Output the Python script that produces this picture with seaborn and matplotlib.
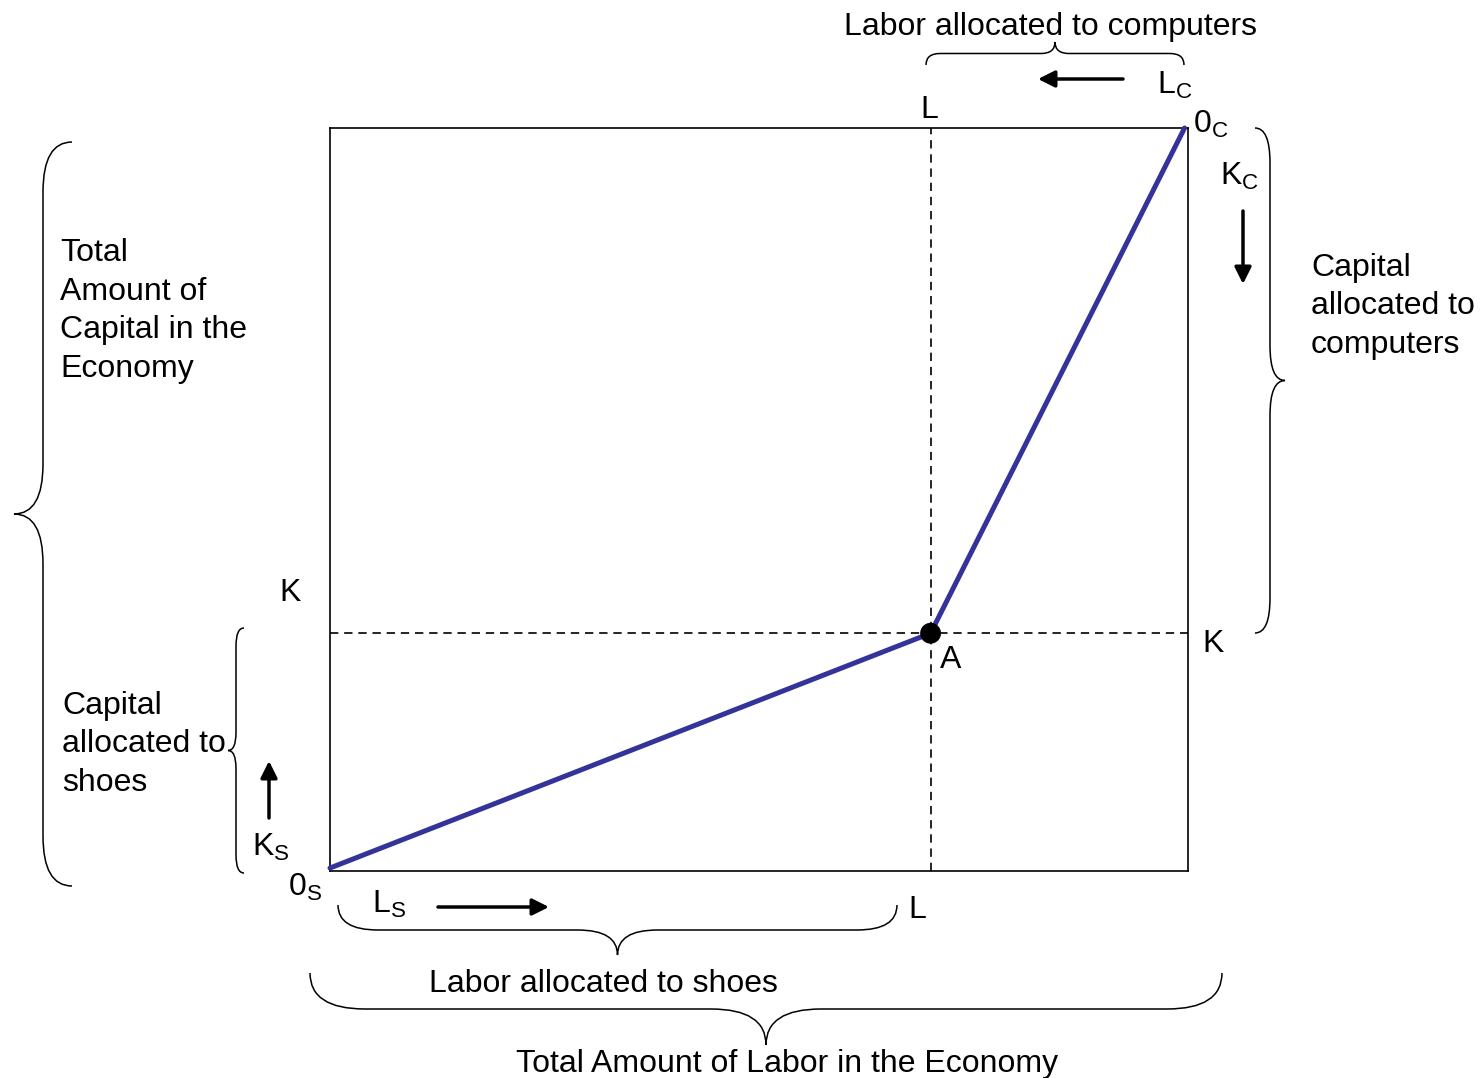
import numpy as np
import matplotlib
matplotlib.use("Agg")
import matplotlib.pyplot as plt
from matplotlib.path import Path
from matplotlib.patches import PathPatch
import seaborn as sns

# Edgeworth box data (labor / capital in shoes, measured from 0s)
total_labor = 100
total_capital = 100
path_labor = [0, 70, 99.6]      # 0s -> A -> 0c
path_capital = [0.4, 32, 100]
point_labor = [70]             # allocation A
point_capital = [32]

LINE_COLOR = "#333399"
FS = 23

sns.set_style("white")
plt.rcParams['font.family'] = ['Liberation Sans', 'DejaVu Sans']
plt.rcParams['mathtext.fontset'] = 'custom'
plt.rcParams['mathtext.rm'] = 'Liberation Sans'
plt.rcParams['text.color'] = 'black'

W, H = 1480, 1078
fig = plt.figure(figsize=(W / 100, H / 100), dpi=100)
fig.patch.set_facecolor("white")

# main box sits in pixel region x 330..1188, y 128..871
box = [330, 128, 1188, 871]
ax = fig.add_axes([box[0] / W, 1 - box[3] / H, (box[2] - box[0]) / W, (box[3] - box[1]) / H])
ax.set_xlim(0, total_labor)
ax.set_ylim(0, total_capital)
ax.set_xticks([])
ax.set_yticks([])
for s in ax.spines.values():
    s.set_color("black")
    s.set_linewidth(1.2)

dash = (0, (5, 3.5))
ax.axvline(point_labor[0], color="black", lw=1.2, ls=dash, zorder=1)
ax.axhline(point_capital[0], color="black", lw=1.2, ls=dash, zorder=1)

sns.lineplot(x=path_labor, y=path_capital, ax=ax, color=LINE_COLOR, lw=3.6,
             sort=False, clip_on=False, zorder=3)
sns.scatterplot(x=point_labor, y=point_capital, ax=ax, color="black", s=15 ** 2,
                edgecolor="none", clip_on=False, zorder=4)

# overlay in pixel coordinates for labels, braces and arrows
ov = fig.add_axes([0, 0, 1, 1])
ov.set_xlim(0, W)
ov.set_ylim(H, 0)
ov.axis("off")
ov.patch.set_alpha(0)


def brace(p0, p1, n, d, r):
    p0 = np.array(p0, float)
    p1 = np.array(p1, float)
    e = (p1 - p0) / np.linalg.norm(p1 - p0)
    n = np.array(n, float)
    L = np.linalg.norm(p1 - p0)
    m, h = L / 2, d / 2
    local = [(0, 0), (0, h), (r, h), (m - r, h), (m, h), (m, d),
             (m, h), (m + r, h), (L - r, h), (L, h), (L, 0)]
    codes = [Path.MOVETO, Path.CURVE3, Path.CURVE3, Path.LINETO, Path.CURVE3, Path.CURVE3,
             Path.CURVE3, Path.CURVE3, Path.LINETO, Path.CURVE3, Path.CURVE3]
    verts = [p0 + u * e + v * n for u, v in local]
    ov.add_patch(PathPatch(Path(verts, codes), fill=False, lw=1.1, edgecolor="black"))


def arrow(x0, y0, x1, y1):
    ov.annotate("", xy=(x1, y1), xytext=(x0, y0),
                arrowprops=dict(arrowstyle="-|>", lw=2.5, color="black",
                                mutation_scale=25, shrinkA=0, shrinkB=0))


def label(x, y, s, ha="left"):
    ov.text(x, y, s, fontsize=FS, ha=ha, va="baseline", color="black")


def lines(x, y, rows, step=38.5):
    for i, row in enumerate(rows):
        label(x, y + i * step, row)


# braces
brace((926, 65), (1184, 65), (0, -1), 23, 14)
brace((1255, 128), (1255, 633), (1, 0), 30, 35)
brace((72, 142), (72, 886), (-1, 0), 58, 50)
brace((244, 628), (244, 873), (-1, 0), 16, 18)
brace((338, 905), (897, 905), (0, 1), 50, 40)
brace((310, 973), (1222, 973), (0, 1), 72, 55)

# arrows
arrow(1123, 79, 1038, 79)
arrow(1243, 211, 1243, 284)
arrow(269, 818, 269, 761)
arrow(438, 907, 549, 907)

# labels
label(1051, 35, "Labor allocated to computers", ha="center")
label(929, 118, "L", ha="center")
label(1157, 94, r"$\mathregular{L_C}$")
label(1193, 133, r"$\mathregular{0_C}$")
label(1220, 185, r"$\mathregular{K_C}$")
lines(1311, 276, ["Capital", "allocated to", "computers"])
label(1202, 652, "K")
label(940, 668, "A")
label(279, 601, "K")
lines(60, 261, ["Total", "Amount of", "Capital in the", "Economy"])
lines(62, 714, ["Capital", "allocated to", "shoes"])
label(252, 856, r"$\mathregular{K_S}$")
label(288, 896, r"$\mathregular{0_S}$")
label(372, 913, r"$\mathregular{L_S}$")
label(908, 918, "L")
label(603, 992, "Labor allocated to shoes", ha="center")
label(787, 1072, "Total Amount of Labor in the Economy", ha="center")

fig.savefig("out.png", dpi=100, facecolor="white")
